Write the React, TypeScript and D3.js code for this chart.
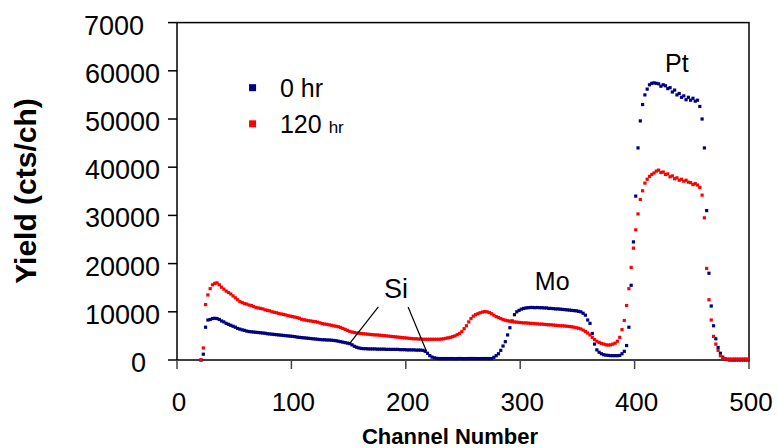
import React from 'react'
import * as d3 from 'd3'

// RBS spectra, one value every 2 channels starting at channel 21
const firstChannel = 21
const channelStep = 2

const yield0hr = [
  0, 1200, 6800, 8300, 8400, 8600, 8650, 8600, 8400, 8100,
  7900, 7600, 7400, 7200, 7000, 6800, 6550, 6400, 6250, 6150,
  6000, 5900, 5850, 5800, 5750, 5700, 5650, 5600, 5550, 5450,
  5400, 5350, 5300, 5250, 5200, 5150, 5100, 5050, 5000, 4950,
  4900, 4850, 4750, 4700, 4650, 4600, 4550, 4500, 4450, 4400,
  4350, 4300, 4250, 4200, 4200, 4150, 4150, 4100, 4050, 4000,
  3900, 3800, 3700, 3600, 3500, 3400, 3150, 2850, 2650, 2500,
  2400, 2350, 2350, 2300, 2300, 2300, 2300, 2250, 2250, 2250,
  2250, 2200, 2200, 2200, 2200, 2200, 2200, 2150, 2150, 2150,
  2100, 2100, 2100, 2100, 2050, 2050, 2050, 2000, 1800, 1400,
  900, 600, 450, 350, 300, 300, 300, 300, 300, 300,
  300, 280, 300, 310, 300, 290, 300, 300, 310, 300,
  300, 290, 300, 300, 310, 300, 300, 300, 550, 900,
  1300, 2000, 2900, 3800, 5200, 6700, 8100, 9400, 10000, 10300,
  10550, 10700, 10800, 10850, 10900, 10900, 10850, 10900, 10850, 10850,
  10800, 10800, 10700, 10700, 10650, 10600, 10600, 10550, 10500, 10450,
  10400, 10350, 10300, 10250, 10200, 10100, 10000, 9700, 9300, 8300,
  7600, 5500, 3300, 2100, 1600, 1300, 1100, 1000, 950, 900,
  900, 900, 900, 950, 1300, 1800, 3000, 6800, 15500, 24500,
  34000, 44000, 49600, 53000, 55000, 56200, 57100, 57400, 57500, 57400,
  57300, 56800, 57100, 56900, 56300, 56500, 55600, 56000, 55000, 55300,
  54500, 54800, 54000, 54500, 53900, 54300, 53700, 53900, 52600, 50000,
  44000, 31000, 18000, 11200, 7100, 4400, 2600, 1400, 600, 250,
  100, 0, 0, 0, 0, 0, 0, 0, 0, 0,
]

const yield120hr = [
  0, 2500, 11500, 13500, 14800, 15600, 15900, 16000, 15600, 15100,
  14700, 14300, 14000, 13700, 13300, 12900, 12500, 12100, 11900, 11700,
  11600, 11400, 11300, 11100, 10900, 10800, 10700, 10600, 10400, 10300,
  10200, 10000, 9900, 9800, 9650, 9550, 9450, 9350, 9200, 9100,
  9000, 8900, 8800, 8650, 8450, 8350, 8250, 8150, 8100, 8000,
  7950, 7850, 7700, 7550, 7450, 7400, 7300, 7200, 7100, 7000,
  6900, 6750, 6550, 6350, 6150, 5950, 5800, 5700, 5600, 5550,
  5500, 5450, 5400, 5350, 5300, 5250, 5200, 5200, 5150, 5100,
  5050, 5000, 4950, 4900, 4850, 4800, 4750, 4700, 4650, 4600,
  4550, 4500, 4450, 4400, 4400, 4350, 4350, 4300, 4300, 4300,
  4300, 4300, 4300, 4300, 4300, 4350, 4400, 4500, 4600, 4700,
  4850, 5000, 5250, 5500, 5900, 6500, 7100, 7900, 8600, 9100,
  9400, 9600, 9800, 9950, 10050, 10000, 9850, 9600, 9300, 9000,
  8800, 8600, 8400, 8250, 8150, 8050, 7950, 7900, 7850, 7800,
  7750, 7700, 7700, 7650, 7600, 7600, 7550, 7500, 7450, 7450,
  7400, 7350, 7300, 7300, 7250, 7200, 7150, 7100, 7100, 7050,
  7000, 6950, 6900, 6800, 6700, 6600, 6450, 6200, 5900, 5600,
  5200, 4700, 4250, 3900, 3650, 3450, 3300, 3150, 3100, 3150,
  3300, 3500, 3900, 4700, 6300, 8200, 11300, 14800, 19200, 23200,
  27000, 30300, 33300, 35100, 36700, 37500, 38100, 38500, 38800, 39200,
  39400, 38900, 39000, 38500, 38600, 38000, 38200, 37600, 37800, 37300,
  37500, 37100, 37300, 36900, 36800, 36400, 36600, 36300, 35800, 34200,
  29500, 19000, 12500, 8300, 4900, 3300, 2000, 900, 400, 250,
  200, 200, 200, 200, 200, 200, 200, 200, 200, 200,
]

const seriesNames = ['0 hr', '120 hr']
const seriesColors = ['#000080', '#ff0000']

const xTicks = [0, 100, 200, 300, 400, 500]
const yTicks = [0, 10000, 20000, 30000, 40000, 50000, 60000, 70000]
// the top label is clipped in the original
const yTickLabels = ['0', '10000', '20000', '30000', '40000', '50000', '60000', '7000']

const W = 778
const H = 448
const font = '"Liberation Sans", Arial, sans-serif'

export default function App() {
  const x = d3.scaleLinear().domain([0, 500]).range([177, 749])
  const y = d3.scaleLinear().domain([0, 70000]).range([360, 22.6])

  const toPoints = (vals: number[]) =>
    vals.map((v, i) => ({ ch: firstChannel + i * channelStep, v }))

  const series = [toPoints(yield0hr), toPoints(yield120hr)]
  const sz = 3.2

  // "0" and the clipped "7000" sit left of the common right edge
  const labelShift = (lbl: string) => (lbl === '0' ? -14 : lbl === '7000' ? -16 : 0)

  return (
    <svg width={W} height={H} style={{ position: 'absolute', left: 0, top: 0, background: '#fff' }}>
      <rect x={x(0)} y={y(70000)} width={x(500) - x(0)} height={y(0) - y(70000)}
        fill="none" stroke="#000" strokeWidth={1.5} />

      {yTicks.map((t, i) => (
        <g key={'y' + t}>
          <line x1={x(0) - 9} x2={x(0)} y1={y(t)} y2={y(t)} stroke="#000" strokeWidth={1.5} />
          <text x={160 + labelShift(yTickLabels[i])} y={y(t) + 3} textAnchor="end" dominantBaseline="central"
            fontFamily={font} fontSize={27}>{yTickLabels[i]}</text>
        </g>
      ))}

      {xTicks.map(t => (
        <g key={'x' + t}>
          <line x1={x(t)} x2={x(t)} y1={y(0)} y2={y(0) + 9} stroke="#444" strokeWidth={1.5} />
          <text x={x(t) + 2} y={411} textAnchor="middle" fontFamily={font} fontSize={26}>{t}</text>
        </g>
      ))}

      <text x={450} y={444} textAnchor="middle" fontFamily={font} fontSize={22} fontWeight="bold">
        Channel Number
      </text>
      <text transform="translate(36,191) rotate(-90)" textAnchor="middle"
        fontFamily={font} fontSize={30} fontWeight="bold">
        Yield (cts/ch)
      </text>

      {series.map((pts, s) => (
        <g key={'s' + s} fill={seriesColors[s]}>
          {pts.map(p => (
            <rect key={p.ch} x={x(p.ch) - sz / 2} y={y(p.v) - sz / 2} width={sz} height={sz} />
          ))}
        </g>
      ))}

      {/* legend */}
      {seriesNames.map((name, s) => {
        const ly = y(56500 - s * 7500)
        const [num, unit] = name.split(' ')
        return (
          <g key={name}>
            <rect x={x(63)} y={ly - 3.5} width={7} height={7} fill={seriesColors[s]} />
            <text x={x(90)} y={ly + 9} fontFamily={font} fontSize={25}>
              {num} <tspan fontSize={s === 1 ? 17 : 25}>{unit}</tspan>
            </text>
          </g>
        )
      })}

      {/* peak annotations */}
      <text x={x(181)} y={y(12800)} fontFamily={font} fontSize={27}>Si</text>
      <line x1={x(176)} y1={y(11000)} x2={x(150.5)} y2={y(3300)} stroke="#000" strokeWidth={1.2} />
      <line x1={x(202)} y1={y(11000)} x2={x(218)} y2={y(1870)} stroke="#000" strokeWidth={1.2} />
      <text x={x(328)} y={y(14500)} textAnchor="middle" fontFamily={font} fontSize={25}>Mo</text>
      <text x={x(437)} y={y(59700)} textAnchor="middle" fontFamily={font} fontSize={25}>Pt</text>
    </svg>
  )
}
